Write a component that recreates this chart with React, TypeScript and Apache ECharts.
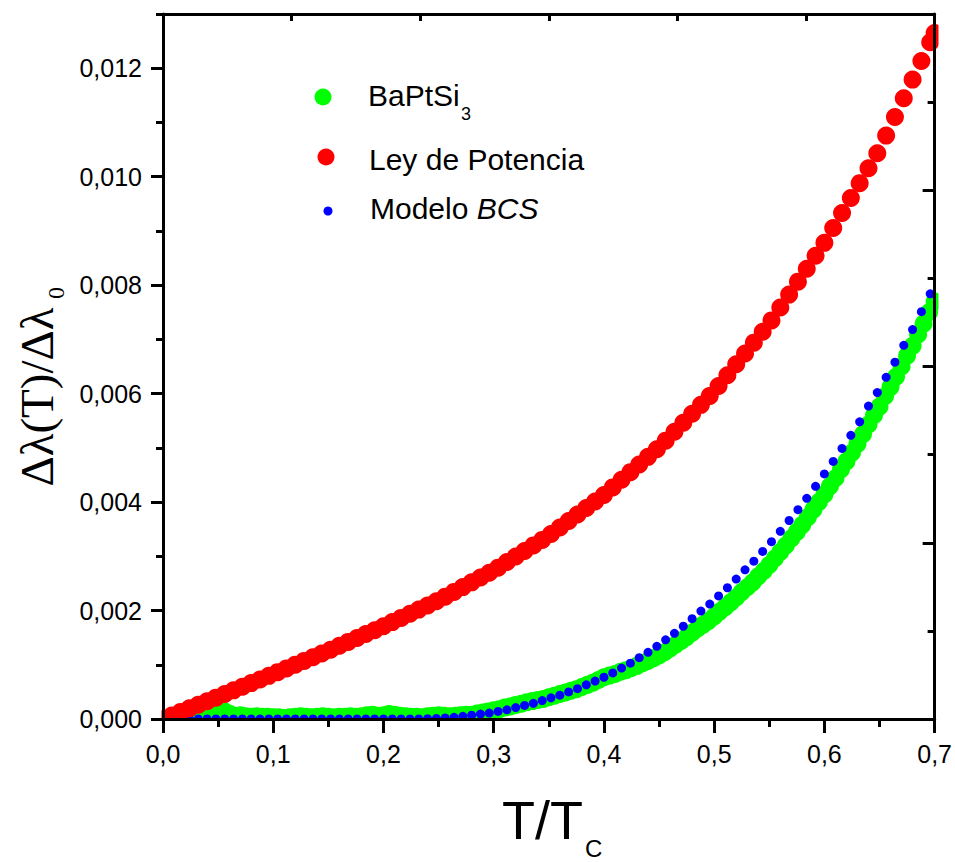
import { useEffect, useRef } from "react";
import * as echarts from "echarts";

// Tick labels
const xTickValues = [0, 0.1, 0.2, 0.3, 0.4, 0.5, 0.6, 0.7];
const yTickValues = [0, 0.002, 0.004, 0.006, 0.008, 0.01, 0.012];

// Model curves share the same T/Tc grid
const fitT = [
  0, 0.008, 0.016, 0.024, 0.032, 0.04, 0.048, 0.056, 0.064, 0.072, 0.08, 0.088, 0.096, 0.104, 0.112, 0.12,
  0.128, 0.136, 0.144, 0.152, 0.16, 0.168, 0.176, 0.184, 0.192, 0.2, 0.208, 0.216, 0.224, 0.232, 0.24, 0.248,
  0.256, 0.264, 0.272, 0.28, 0.288, 0.296, 0.304, 0.312, 0.32, 0.328, 0.336, 0.344, 0.352, 0.36, 0.368, 0.376,
  0.384, 0.392, 0.4, 0.408, 0.416, 0.424, 0.432, 0.44, 0.448, 0.456, 0.464, 0.472, 0.48, 0.488, 0.496, 0.504,
  0.512, 0.52, 0.528, 0.536, 0.544, 0.552, 0.56, 0.568, 0.576, 0.584, 0.592, 0.6, 0.608, 0.616, 0.624, 0.632,
  0.64, 0.648, 0.656, 0.664, 0.672, 0.68, 0.688, 0.696, 0.7,
];

// Ley de Potencia
const powerLaw = [
  0, 0.000066, 0.000131, 0.000197, 0.000262, 0.000328, 0.000394, 0.00046, 0.000528, 0.000595, 0.000662,
  0.000729, 0.000796, 0.000864, 0.000933, 0.001002, 0.001071, 0.00114, 0.001208, 0.001278, 0.00135, 0.001422,
  0.001494, 0.001566, 0.001638, 0.00171, 0.001787, 0.001864, 0.00194, 0.002017, 0.002094, 0.002171, 0.002256,
  0.002344, 0.002432, 0.00252, 0.002608, 0.002696, 0.002791, 0.002894, 0.002996, 0.003098, 0.003201, 0.003303,
  0.00341, 0.00353, 0.00365, 0.00377, 0.00389, 0.00401, 0.00413, 0.004271, 0.004412, 0.004552, 0.004693,
  0.004834, 0.004975, 0.005133, 0.005298, 0.005463, 0.005628, 0.005793, 0.005958, 0.00614, 0.00634, 0.00654,
  0.00674, 0.00694, 0.00714, 0.00735, 0.007588, 0.007826, 0.008065, 0.008303, 0.008542, 0.00878, 0.009055,
  0.00933, 0.009606, 0.009881, 0.010156, 0.010431, 0.010758, 0.011102, 0.011446, 0.01179, 0.012134, 0.012478,
  0.01265,
];

// Modelo BCS
const bcsModel = [
  0, 0, 0, 0, 0, 0, 0, 0, 0, 0, 0, 0, 0, 0, 0, 0, 0, 0, 0, 0, 0, 0, 0, 0, 0, 0, 0, 0, 0, 0, 0.000005,
  0.00001, 0.00002, 0.00003, 0.00005, 0.00007, 0.00009, 0.00011, 0.00014, 0.00017, 0.00021, 0.00025, 0.00029,
  0.00034, 0.00039, 0.00044, 0.0005, 0.00056, 0.00063, 0.0007, 0.00077, 0.00085, 0.00094, 0.00103, 0.00113,
  0.00123, 0.00134, 0.00146, 0.00158, 0.00171, 0.00185, 0.00199, 0.00212, 0.00227, 0.00242, 0.00258, 0.00275,
  0.00291, 0.00309, 0.00327, 0.00346, 0.00366, 0.00386, 0.00407, 0.00429, 0.00452, 0.00475, 0.00499, 0.00523,
  0.00548, 0.00577, 0.00602, 0.0063, 0.00658, 0.00689, 0.00718, 0.00751, 0.00784, null,
];

// BaPtSi3 measurement
const sampleT = [
  0.01, 0.015, 0.02, 0.025, 0.03, 0.035, 0.04, 0.045, 0.05, 0.055, 0.06, 0.065, 0.07, 0.075, 0.08, 0.085,
  0.09, 0.095, 0.1, 0.105, 0.11, 0.115, 0.12, 0.125, 0.13, 0.135, 0.14, 0.145, 0.15, 0.155, 0.16, 0.165,
  0.17, 0.175, 0.18, 0.185, 0.19, 0.195, 0.2, 0.205, 0.21, 0.215, 0.22, 0.225, 0.23, 0.235, 0.24, 0.245,
  0.25, 0.255, 0.26, 0.265, 0.27, 0.275, 0.28, 0.285, 0.29, 0.295, 0.3, 0.305, 0.31, 0.315, 0.32, 0.325,
  0.33, 0.335, 0.34, 0.345, 0.35, 0.355, 0.36, 0.365, 0.37, 0.375, 0.38, 0.385, 0.39, 0.395, 0.4, 0.405,
  0.41, 0.415, 0.42, 0.425, 0.43, 0.435, 0.44, 0.445, 0.45, 0.455, 0.46, 0.465, 0.47, 0.475, 0.48, 0.485,
  0.49, 0.495, 0.5, 0.505, 0.51, 0.515, 0.52, 0.525, 0.53, 0.535, 0.54, 0.545, 0.55, 0.555, 0.56, 0.565,
  0.57, 0.575, 0.58, 0.585, 0.59, 0.595, 0.6, 0.605, 0.61, 0.615, 0.62, 0.625, 0.63, 0.635, 0.64, 0.645,
  0.65, 0.655, 0.66, 0.665, 0.67, 0.675, 0.68, 0.685, 0.69, 0.695, 0.7,
];
const baptsi3 = [
  0.00002, 0.00002, 0.00003, 0.00003, 0.00004, 0.00005, 0.00006, 0.00008, 0.00011, 0.00015, 0.0001, 0.00006,
  0.00007, 0.00005, 0.00004, 0.00005, 0.00004, 0.00004, 0.00003, 0.00003, 0.00002, 0.00003, 0.00004, 0.00005,
  0.00004, 0.00003, 0.00004, 0.00005, 0.00004, 0.00003, 0.00004, 0.00004, 0.00005, 0.00004, 0.00005, 0.00007,
  0.00008, 0.00006, 0.00007, 0.00009, 0.00008, 0.00006, 0.00005, 0.00004, 0.00004, 0.00003, 0.00005, 0.00006,
  0.00007, 0.00006, 0.00005, 0.00006, 0.00007, 0.00008, 0.00008, 0.0001, 0.00012, 0.00014, 0.00016, 0.00018,
  0.00021, 0.00023, 0.00026, 0.00028, 0.00031, 0.00033, 0.00035, 0.00037, 0.0004, 0.00043, 0.00046, 0.00049,
  0.00052, 0.00055, 0.00059, 0.00063, 0.00067, 0.00072, 0.00077, 0.0008, 0.00083, 0.00087, 0.0009, 0.00094,
  0.00098, 0.00103, 0.00107, 0.00112, 0.00117, 0.00123, 0.0013, 0.00137, 0.00144, 0.00151, 0.00159, 0.00167,
  0.00174, 0.00181, 0.00189, 0.00198, 0.00206, 0.00215, 0.00224, 0.00234, 0.00243, 0.00252, 0.00263, 0.00273,
  0.00284, 0.00296, 0.00308, 0.0032, 0.00333, 0.00345, 0.00358, 0.00372, 0.00386, 0.004, 0.00414, 0.00429,
  0.00444, 0.0046, 0.00475, 0.00491, 0.00507, 0.00525, 0.00543, 0.0056, 0.00576, 0.00595, 0.00612, 0.00631,
  0.0065, 0.0067, 0.00688, 0.00709, 0.00729, 0.0075, 0.0077,
];

const SANS = "'Liberation Sans', Arial, sans-serif";
const SERIF = "'Liberation Serif', 'Times New Roman', serif";

export default function App() {
  const ref = useRef<HTMLDivElement>(null);

  useEffect(() => {
    if (!ref.current) return;
    const chart = echarts.init(ref.current, null, { renderer: "svg" });
    const axisLineStyle = { color: "#000", width: 3 };
    const fmtY = (v: number) => v.toFixed(3).replace(".", ",");
    const fmtX = (v: number) => v.toFixed(1).replace(".", ",");

    const option: any = {
      animation: false,
      backgroundColor: "#fff",
      grid: { left: 163, right: 18, top: 14, bottom: 143 },
      xAxis: [
        {
          type: "value",
          position: "bottom",
          min: 0,
          max: 0.7,
          interval: 0.1,
          z: 20,
          axisLine: { show: true, onZero: false, lineStyle: axisLineStyle },
          axisTick: { show: true, inside: false, length: 14, lineStyle: axisLineStyle },
          minorTick: { show: true, splitNumber: 2, length: 8, lineStyle: axisLineStyle },
          axisLabel: {
            show: true,
            color: "#000",
            fontSize: 25,
            fontFamily: SANS,
            margin: 22,
            customValues: xTickValues,
            formatter: fmtX,
          },
          splitLine: { show: false },
        },
        {
          type: "value",
          position: "top",
          min: 0,
          max: 6,
          interval: 1,
          z: 20,
          axisLine: { show: true, onZero: false, lineStyle: axisLineStyle },
          axisTick: { show: true, inside: true, length: 7, lineStyle: axisLineStyle },
          axisLabel: { show: false },
          splitLine: { show: false },
        },
      ],
      yAxis: [
        {
          type: "value",
          position: "left",
          min: 0,
          max: 0.013,
          interval: 0.001,
          z: 20,
          axisLine: { show: true, onZero: false, lineStyle: axisLineStyle },
          axisTick: { show: true, inside: false, length: 7, lineStyle: axisLineStyle },
          axisLabel: { show: false },
          splitLine: { show: false },
        },
        {
          type: "value",
          position: "left",
          min: 0,
          max: 0.013,
          z: 21,
          axisLine: { show: false },
          axisTick: { show: true, inside: false, length: 12, lineStyle: axisLineStyle, customValues: yTickValues },
          axisLabel: {
            show: true,
            color: "#000",
            fontSize: 25,
            fontFamily: SANS,
            margin: 21,
            customValues: yTickValues,
            formatter: fmtY,
          },
          splitLine: { show: false },
        },
        {
          type: "value",
          position: "right",
          min: 0,
          max: 4,
          interval: 1,
          z: 20,
          axisLine: { show: true, onZero: false, lineStyle: axisLineStyle },
          axisTick: { show: true, inside: true, length: 12, lineStyle: axisLineStyle },
          minorTick: { show: true, splitNumber: 2, length: 7, lineStyle: axisLineStyle },
          axisLabel: { show: false },
          splitLine: { show: false },
        },
      ],
      series: [
        {
          name: "BaPtSi3",
          type: "scatter",
          xAxisIndex: 0,
          yAxisIndex: 0,
          symbol: "circle",
          symbolSize: 18,
          itemStyle: { color: "#00FF00", opacity: 1 },
          z: 2,
          data: sampleT.map((t, i) => [t, baptsi3[i]]),
        },
        {
          name: "Modelo BCS",
          type: "scatter",
          xAxisIndex: 0,
          yAxisIndex: 0,
          symbol: "circle",
          symbolSize: 9,
          itemStyle: { color: "#0000FF", opacity: 1 },
          z: 3,
          data: fitT.map((t, i) => [t, bcsModel[i]]).filter((p) => p[1] !== null),
        },
        {
          name: "Ley de Potencia",
          type: "scatter",
          xAxisIndex: 0,
          yAxisIndex: 0,
          symbol: "circle",
          symbolSize: 18,
          itemStyle: { color: "#FF0000", opacity: 1 },
          z: 4,
          data: fitT.map((t, i) => [t, powerLaw[i]]),
        },
      ],
      graphic: {
        elements: [
          // white masks outside the frame (clip the markers like the original)
          { type: "rect", z: 10, shape: { x: 140, y: 720.5, width: 815, height: 18 }, style: { fill: "#fff" } },
          { type: "rect", z: 10, shape: { x: 145, y: 0, width: 16.5, height: 738 }, style: { fill: "#fff" } },
          { type: "rect", z: 10, shape: { x: 938.5, y: 0, width: 16.5, height: 738 }, style: { fill: "#fff" } },
          { type: "rect", z: 10, shape: { x: 140, y: 0, width: 815, height: 12.5 }, style: { fill: "#fff" } },
          // legend
          { type: "circle", z: 30, shape: { cx: 323, cy: 97, r: 8.5 }, style: { fill: "#00FF00" } },
          { type: "circle", z: 30, shape: { cx: 326, cy: 157, r: 8.5 }, style: { fill: "#FF0000" } },
          { type: "circle", z: 30, shape: { cx: 328, cy: 211, r: 4.5 }, style: { fill: "#0000FF" } },
          {
            type: "text",
            z: 30,
            x: 368,
            y: 95,
            style: { text: "BaPtSi", font: `30px ${SANS}`, fill: "#000", align: "left", verticalAlign: "middle" },
          },
          {
            type: "text",
            z: 30,
            x: 461,
            y: 114,
            style: { text: "3", font: `18px ${SANS}`, fill: "#000", align: "left", verticalAlign: "middle" },
          },
          {
            type: "text",
            z: 30,
            x: 369,
            y: 159,
            style: {
              text: "Ley de Potencia",
              font: `30px ${SANS}`,
              fill: "#000",
              align: "left",
              verticalAlign: "middle",
            },
          },
          {
            type: "text",
            z: 30,
            x: 370,
            y: 208,
            style: {
              text: "Modelo {i|BCS}",
              font: `30px ${SANS}`,
              fill: "#000",
              align: "left",
              verticalAlign: "middle",
              rich: { i: { fontStyle: "italic", fontSize: 30, fontFamily: SANS, fill: "#000" } },
            },
          },
          // x-axis title
          {
            type: "text",
            z: 30,
            x: 502,
            y: 820,
            style: { text: "T/T", font: `54px ${SANS}`, fill: "#000", align: "left", verticalAlign: "middle" },
          },
          {
            type: "text",
            z: 30,
            x: 585,
            y: 848,
            style: { text: "C", font: `24px ${SANS}`, fill: "#000", align: "left", verticalAlign: "middle" },
          },
          // y-axis title
          {
            type: "group",
            z: 30,
            x: 37,
            y: 397,
            rotation: Math.PI / 2,
            children: [
              {
                type: "text",
                z: 30,
                x: 0,
                y: 0,
                style: {
                  text: "Δλ(T)/Δλ",
                  font: `47px ${SERIF}`,
                  fill: "#000",
                  align: "center",
                  verticalAlign: "middle",
                },
              },
              {
                type: "text",
                z: 30,
                x: 98,
                y: 19,
                style: { text: "0", font: `24px ${SERIF}`, fill: "#000", align: "left", verticalAlign: "middle" },
              },
            ],
          },
        ],
      },
    };

    chart.setOption(option);
    return () => chart.dispose();
  }, []);

  return (
    <div
      ref={ref}
      style={{ position: "fixed", left: 0, top: 0, width: 955, height: 862, background: "#fff" }}
    />
  );
}
